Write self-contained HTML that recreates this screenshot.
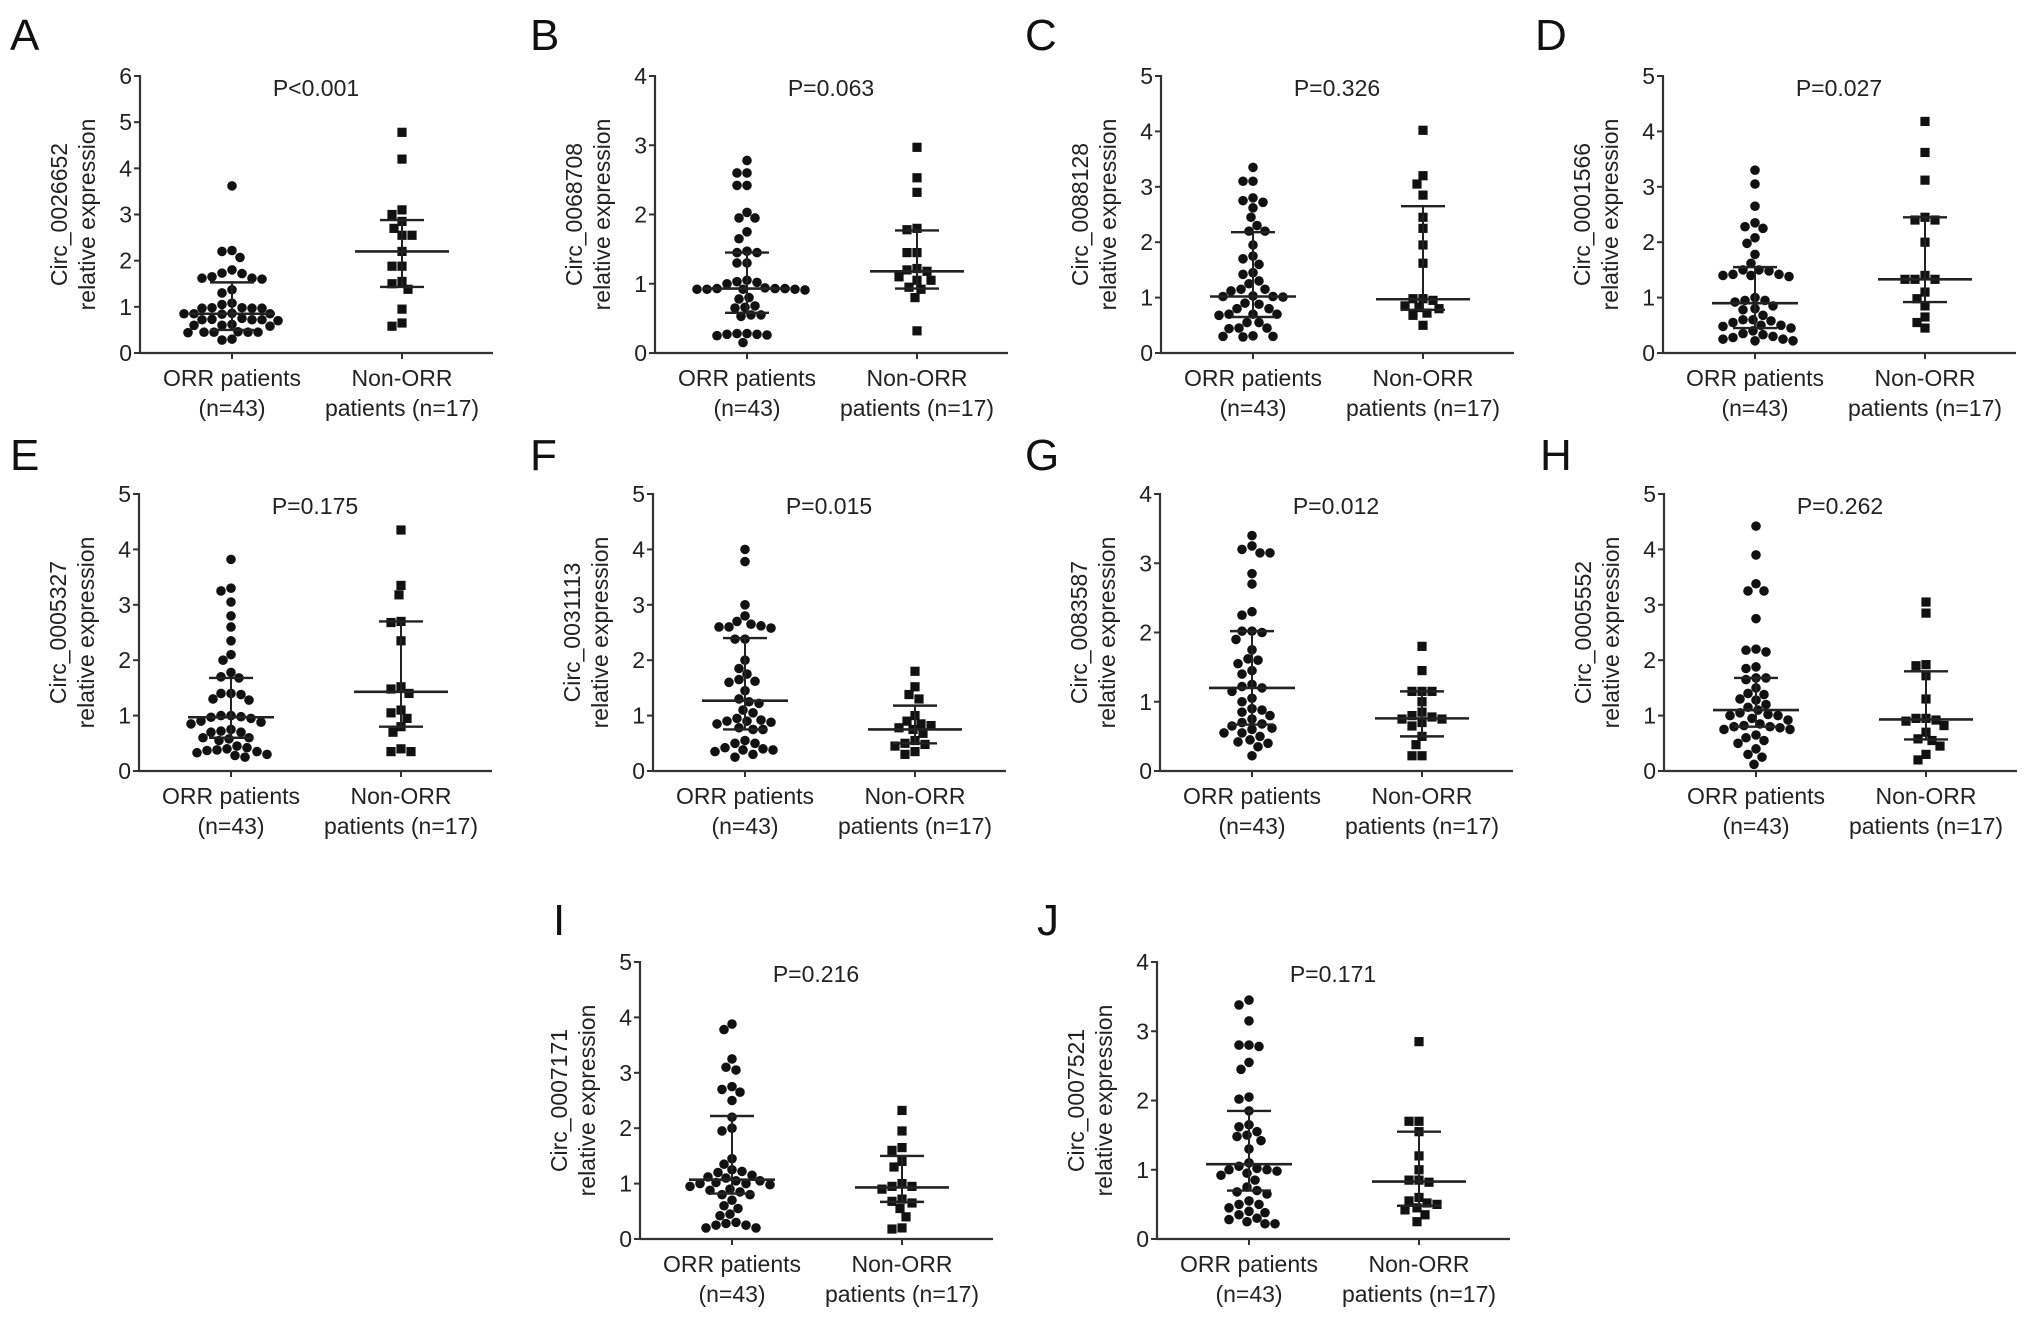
<!DOCTYPE html>
<html><head><meta charset="utf-8">
<style>
html,body{margin:0;padding:0;background:#fff;}
svg{display:block;font-family:"Liberation Sans",Arial,sans-serif;}
</style></head>
<body>
<svg id="fig" width="2032" height="1319" viewBox="0 0 2032 1319" xmlns="http://www.w3.org/2000/svg"></svg>
<script>
const panelLetters = ["A","B","C","D","E","F","G","H","I","J"];
const circNames = ["Circ_0026652","Circ_0068708","Circ_0088128","Circ_0001566","Circ_0005327","Circ_0031113","Circ_0083587","Circ_0005552","Circ_0007171","Circ_0007521"];
const pValues = ["P<0.001","P=0.063","P=0.326","P=0.027","P=0.175","P=0.015","P=0.012","P=0.262","P=0.216","P=0.171"];
const yMaxes = [6,4,5,5,5,5,4,5,5,4];
const categories = ["ORR patients|(n=43)","Non-ORR|patients (n=17)"];

const orrA=[3.62,2.22,2.2,2.07,1.8,1.73,1.72,1.65,1.62,1.62,1.6,1.37,1.3,1.08,1.05,0.98,0.97,0.97,0.98,0.97,0.85,0.85,0.84,0.86,0.85,0.72,0.72,0.7,0.72,0.73,0.75,0.6,0.58,0.6,0.62,0.45,0.45,0.45,0.46,0.44,0.45,0.3,0.28];
const nonA=[4.78,4.2,3.1,3.0,2.85,2.7,2.55,2.55,2.2,1.88,1.88,1.55,1.5,1.38,0.95,0.65,0.58];
const orrB=[2.78,2.6,2.6,2.42,2.42,1.95,1.95,2.03,1.75,1.65,1.45,1.45,1.47,1.3,1.3,1.05,1.0,1.02,1.03,0.93,0.92,0.93,0.91,0.92,0.93,0.92,0.94,0.92,0.8,0.78,0.65,0.68,0.66,0.55,0.53,0.55,0.28,0.28,0.27,0.25,0.26,0.27,0.15];
const nonB=[2.97,2.53,2.32,1.8,1.78,1.45,1.45,1.22,1.2,1.18,1.1,1.05,1.05,0.95,0.92,0.8,0.32];
const orrC=[3.35,3.1,3.1,2.8,2.72,2.75,2.62,2.45,2.3,2.2,2.2,1.95,1.75,1.7,1.6,1.45,1.42,1.3,1.25,1.15,1.12,1.15,1.02,1.02,1.01,1.03,0.9,0.88,0.8,0.8,0.7,0.7,0.68,0.7,0.55,0.55,0.45,0.44,0.45,0.3,0.3,0.29,0.31];
const nonC=[4.02,3.2,3.05,2.85,2.45,2.25,1.95,1.62,0.98,0.98,0.95,0.85,0.8,0.82,0.72,0.68,0.5];
const orrD=[3.3,3.05,2.65,2.35,2.28,2.25,2.08,1.98,1.78,1.62,1.5,1.48,1.42,1.4,1.38,1.4,1.42,1.5,1.0,0.95,0.95,0.92,0.85,0.8,0.78,0.68,0.6,0.58,0.6,0.5,0.48,0.45,0.5,0.55,0.4,0.35,0.3,0.28,0.25,0.22,0.22,0.25,0.33];
const nonD=[4.18,3.62,3.12,2.45,2.4,2.4,2.0,1.4,1.33,1.33,1.33,1.1,0.98,0.85,0.65,0.55,0.45];
const orrE=[3.82,3.3,3.25,3.05,2.8,2.6,2.35,2.1,2.0,1.78,1.7,1.68,1.4,1.38,1.4,1.3,1.28,1.0,0.98,0.95,0.97,1.0,0.9,0.88,0.85,0.75,0.72,0.7,0.7,0.6,0.58,0.55,0.6,0.45,0.42,0.4,0.38,0.35,0.37,0.33,0.3,0.25,0.28];
const nonE=[4.35,3.35,3.18,2.7,2.68,2.35,1.52,1.48,1.4,1.1,1.05,0.95,0.8,0.7,0.4,0.35,0.35];
const orrF=[4.0,3.78,3.0,2.8,2.7,2.62,2.6,2.6,2.65,2.58,2.38,2.38,2.0,1.85,1.75,1.65,1.62,1.6,1.45,1.3,1.25,1.22,1.1,1.05,0.95,0.92,0.9,0.88,0.85,0.9,0.78,0.75,0.75,0.55,0.5,0.5,0.42,0.38,0.35,0.4,0.38,0.3,0.25];
const nonF=[1.8,1.52,1.38,1.3,1.0,0.9,0.85,0.82,0.78,0.75,0.68,0.55,0.5,0.48,0.45,0.35,0.3];
const orrG=[3.4,3.25,3.2,3.15,3.15,2.85,2.7,2.3,2.25,2.02,2.02,2.0,1.9,1.75,1.62,1.6,1.55,1.45,1.4,1.25,1.22,1.2,1.15,1.05,1.0,0.9,0.88,0.85,0.8,0.75,0.7,0.68,0.65,0.62,0.6,0.55,0.55,0.5,0.45,0.42,0.4,0.35,0.22];
const nonG=[1.8,1.45,1.15,1.15,1.15,1.0,0.85,0.8,0.78,0.75,0.75,0.7,0.65,0.5,0.38,0.22,0.22];
const orrH=[4.42,3.9,3.38,3.25,3.25,2.75,2.2,2.18,2.15,1.88,1.85,1.68,1.65,1.68,1.5,1.4,1.38,1.3,1.28,1.2,1.15,1.1,1.05,1.02,1.0,1.0,0.95,0.92,0.85,0.82,0.8,0.8,0.78,0.75,0.75,0.65,0.6,0.55,0.5,0.4,0.3,0.25,0.12];
const nonH=[3.05,2.85,1.92,1.9,1.72,1.3,0.95,0.95,0.92,0.9,0.82,0.7,0.58,0.55,0.45,0.3,0.2];
const orrI=[3.88,3.78,3.25,3.1,3.05,2.75,2.7,2.65,2.5,2.2,2.0,1.95,1.45,1.35,1.25,1.22,1.2,1.15,1.12,1.1,1.05,1.05,1.02,1.0,1.0,0.98,0.95,0.9,0.88,0.85,0.8,0.8,0.7,0.6,0.55,0.45,0.42,0.3,0.28,0.25,0.25,0.2,0.2];
const nonI=[2.32,1.95,1.65,1.6,1.4,1.3,1.0,0.95,0.95,0.9,0.72,0.68,0.65,0.55,0.4,0.2,0.18];
const orrJ=[3.45,3.38,3.15,2.8,2.8,2.78,2.55,2.45,2.05,2.02,1.85,1.65,1.62,1.5,1.48,1.55,1.42,1.3,1.1,1.05,1.02,1.0,1.0,0.98,0.95,0.92,0.85,0.75,0.7,0.68,0.65,0.55,0.5,0.5,0.45,0.4,0.38,0.35,0.3,0.28,0.25,0.22,0.22];
const nonJ=[2.85,1.7,1.7,1.55,1.2,1.0,0.85,0.85,0.82,0.6,0.55,0.52,0.5,0.45,0.42,0.35,0.25];

const orrSeries=[orrA,orrB,orrC,orrD,orrE,orrF,orrG,orrH,orrI,orrJ];
const nonSeries=[nonA,nonB,nonC,nonD,nonE,nonF,nonG,nonH,nonI,nonJ];
// [q1, median, q3]
const orrStats=[[0.5,0.85,1.53],[0.58,0.93,1.45],[0.65,1.02,2.18],[0.45,0.9,1.55],[0.6,0.97,1.68],[0.75,1.27,2.4],[0.67,1.2,2.02],[0.8,1.1,1.68],[0.82,1.07,2.22],[0.7,1.08,1.85]];
const nonStats=[[1.43,2.2,2.88],[0.93,1.18,1.77],[0.78,0.97,2.65],[0.92,1.33,2.45],[0.8,1.43,2.7],[0.5,0.75,1.18],[0.5,0.76,1.15],[0.57,0.93,1.8],[0.67,0.93,1.5],[0.48,0.83,1.55]];

// layout (not data)
const axisX=[140,655,1161,1663,139,653,1160,1664,640,1157];
const axisTop=[76,76,76,76,494,494,494,494,962,962];
const letterPos=[[10,50],[530,50],[1025,50],[1535,50],[10,470],[530,470],[1025,470],[1540,470],[553,935],[1037,935]];
const AX_H=277, AX_W=353, G1=92, G2=262;

const NS="http://www.w3.org/2000/svg";
const svg=document.getElementById('fig');
function mk(tag,attrs,parent){const e=document.createElementNS(NS,tag);for(const k in attrs)e.setAttribute(k,attrs[k]);(parent||svg).appendChild(e);return e;}

function swarm(vals,cx,yScale,d){
  const sorted=vals.map(v=>v).sort((a,b)=>b-a);
  const placed=[];
  sorted.forEach(v=>{
    const y=yScale(v);
    let best=null;
    for(let k=0;k<80;k++){
      const off=(k%2===0?1:-1)*Math.ceil(k/2)*2;
      const x=cx+off;
      let ok=true;
      for(const p of placed){const dx=p[0]-x,dy=p[1]-y;if(dx*dx+dy*dy<d*d){ok=false;break;}}
      if(ok){best=x;break;}
    }
    if(best===null)best=cx;
    placed.push([best,y]);
  });
  return placed;
}

for(let i=0;i<10;i++){
  const g=mk('g',{});
  
  
  const x0=axisX[i], top=axisTop[i], y0=top+AX_H, ymax=yMaxes[i];
  const yS=v=>y0-v/ymax*AX_H;
  const lt=mk('text',{x:letterPos[i][0],y:letterPos[i][1],'font-size':44,fill:'#111'},g);
  lt.textContent=panelLetters[i];
  
  
  const ya=mk('line',{x1:x0,y1:top-1,x2:x0,y2:y0+1,stroke:'#333','stroke-width':2.2},g);
  
  
  const xa=mk('line',{x1:x0-1,y1:y0,x2:x0+AX_W,y2:y0,stroke:'#333','stroke-width':2.2},g);
  
  
  for(let t=0;t<=ymax;t++){
    const ty=yS(t);
    mk('line',{x1:x0-6,y1:ty,x2:x0,y2:ty,stroke:'#333','stroke-width':2},g);
    const tl=mk('text',{x:x0-8,y:ty+8,'font-size':23,'text-anchor':'end',fill:'#222'},g);
    tl.textContent=String(t);
    
    
  }
  [G1,G2].forEach(o=>mk('line',{x1:x0+o,y1:y0,x2:x0+o,y2:y0+6,stroke:'#333','stroke-width':2},g));
  const yt=mk('text',{transform:`translate(${x0-73},${(top+y0)/2}) rotate(-90)`,'font-size':23,'text-anchor':'middle',fill:'#222'},g);
  
  
  const t1=mk('tspan',{x:0,dy:0},yt);t1.textContent=circNames[i];
  const t2=mk('tspan',{x:0,dy:28},yt);t2.textContent='relative expression';
  const pv=mk('text',{x:x0+176,y:top+20,'font-size':23,'text-anchor':'middle',fill:'#222'},g);
  pv.textContent=pValues[i];
  
  
  [G1,G2].forEach((o,ci)=>{
    const parts=categories[ci].split('|');
    const ct=mk('text',{x:x0+o,y:y0+33,'font-size':23,'text-anchor':'middle',fill:'#222'},g);
    
    
    const a=mk('tspan',{x:x0+o,dy:0},ct);a.textContent=parts[0];
    const b=mk('tspan',{x:x0+o,dy:30},ct);b.textContent=parts[1];
  });
  swarm(orrSeries[i],x0+G1,yS,9.5).forEach(p=>{
    const c=mk('circle',{cx:p[0],cy:p[1],r:4.8,fill:'#111'},g);
    
    
  });
  swarm(nonSeries[i],x0+G2,yS,9.5).forEach(p=>{
    const s=mk('rect',{x:p[0]-4.6,y:p[1]-4.6,width:9.2,height:9.2,fill:'#111'},g);
    
    
  });
  [[orrStats[i],G1,43],[nonStats[i],G2,47]].forEach(([st,o,hw])=>{
    const cx=x0+o;
    const v=mk('line',{x1:cx,y1:yS(st[0]),x2:cx,y2:yS(st[2]),stroke:'#222','stroke-width':2},g);
    
    
    const m=mk('line',{x1:cx-hw,y1:yS(st[1]),x2:cx+hw,y2:yS(st[1]),stroke:'#222','stroke-width':2.6},g);
    
    
    [st[0],st[2]].forEach(q=>{
      const w=mk('line',{x1:cx-22,y1:yS(q),x2:cx+22,y2:yS(q),stroke:'#222','stroke-width':2.4},g);
      
      
    });
  });
}
</script>
</body></html>
